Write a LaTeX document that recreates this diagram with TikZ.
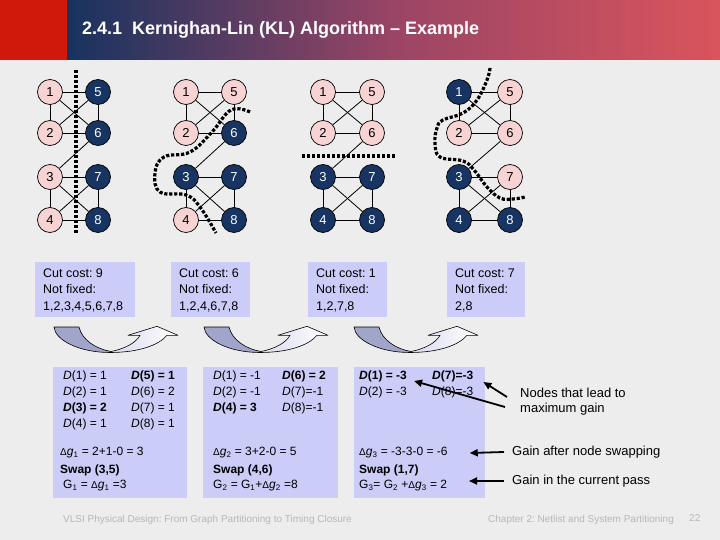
\documentclass[tikz,border=0pt]{standalone}
\usepackage{fontspec}
\setmainfont{Liberation Sans}
\usetikzlibrary{arrows.meta}
\definecolor{bg}{HTML}{EDEDED}
\definecolor{hdrred}{HTML}{D0190B}
\definecolor{hnavy}{HTML}{17335F}
\definecolor{hmid}{HTML}{9A4565}
\definecolor{hred}{HTML}{DA545C}
\definecolor{navy}{HTML}{173462}
\definecolor{pinkn}{HTML}{F8D3D3}
\definecolor{lav}{HTML}{CCCCF8}
\definecolor{tailc}{HTML}{A2A5CA}
\definecolor{shaftl}{HTML}{D8D9EE}
\definecolor{foot}{HTML}{B7B7B7}
\newcommand{\klgraph}[4]{%
  \foreach \i/\s in {#4}{%
    \pgfmathtruncatemacro{\rr}{mod(\i-1,4)}%
    \pgfmathsetmacro{\yy}{{92,133,177,220}[\rr]}%
    \ifnum\i<5 \def\xx{#2}\else\def\xx{#3}\fi
    \node[\s] (#1\i) at (\xx,\yy) {\i};
  }%
  \foreach \a/\b in {1/2,1/5,1/6,2/5,2/6,5/6,6/3,3/7,3/4,3/8,4/7,4/8,7/8}{\draw[edge] (#1\a) -- (#1\b);}%
}
\newcommand{\dg}[1]{{\fontsize{10}{10}\selectfont Δ}\textit{g}\textsubscript{#1}}
\newcommand{\Dd}[1]{\textit{D}(#1)}
\begin{document}
\frenchspacing
\begin{tikzpicture}[x=1pt,y=-1pt,
  pn/.style={circle,draw=black,line width=0.7pt,fill=pinkn,minimum size=25pt,inner sep=0pt,font=\fontsize{13}{13}\selectfont},
  nn/.style={pn,fill=navy,text=white},
  edge/.style={line width=0.8pt},
  cutline/.style={line width=3.2pt,dash pattern=on 3.2pt off 1.8pt},
  costbox/.style={fill=lav,anchor=north west,inner sep=0pt,minimum height=55pt},
  costtxt/.style={anchor=west,align=left,inner sep=0pt,font=\fontsize{12.5}{16.5}\selectfont},
  dbox/.style={fill=lav,anchor=north west,inner sep=0pt,minimum height=131pt},
  dtxt/.style={anchor=west,inner sep=0pt,font=\fontsize{12}{12}\selectfont},
  ann/.style={anchor=west,inner sep=0pt,font=\fontsize{13}{13}\selectfont},
  annarrow/.style={line width=1.8pt,-{Triangle[length=8pt,width=7pt]}},
  foottxt/.style={anchor=west,inner sep=0pt,text=foot,font=\fontsize{10}{10}\selectfont},
  curvarr/.pic={
    \fill[tailc] (0,0) -- (25,0) .. controls (28,13) and (42,22) .. (57,24.5) -- (56,25.5) .. controls (25,25.5) and (1,13) .. (0,0) -- cycle;
    \shade[left color=shaftl,right color=white] (57,24.5) .. controls (70,22) and (82,16) .. (86,8.3) -- (74,8.3) -- (103,-0.7) -- (124,8.3) -- (113,8.3) .. controls (105,18) and (85,25.5) .. (56,25.5) -- cycle;
    \draw[line width=0.6pt,line join=round] (0,0) -- (25,0) .. controls (28,13) and (42,22) .. (57,24.5) .. controls (70,22) and (82,16) .. (86,8.3) -- (74,8.3) -- (103,-0.7) -- (124,8.3) -- (113,8.3) .. controls (105,18) and (85,25.5) .. (56,25.5) .. controls (25,25.5) and (1,13) .. (0,0) -- cycle;
  }]
\useasboundingbox (0,0) rectangle (720,540);
\fill[bg] (0,0) rectangle (720,540);
% header
\fill[hdrred] (0,0) rectangle (67,60);
\shade[left color=hnavy,right color=hred,middle color=hmid] (67,0) rectangle (720,60);
\node[anchor=west,inner sep=0pt,text=white,font=\bfseries\fontsize{18}{18}\selectfont] (title) at (82,30) {2.4.1\hspace{0.55em}Kernighan-Lin (KL) Algorithm – Example};
% graphs
\klgraph{ga}{50}{98}{1/pn,2/pn,3/pn,4/pn,5/nn,6/nn,7/nn,8/nn}
\klgraph{gb}{186}{234}{1/pn,2/pn,3/nn,4/pn,5/pn,6/nn,7/nn,8/nn}
\klgraph{gc}{323}{372}{1/pn,2/pn,3/nn,4/nn,5/pn,6/pn,7/nn,8/nn}
\klgraph{gd}{459}{510}{1/nn,2/pn,3/nn,4/nn,5/pn,6/pn,7/pn,8/nn}
% cut lines
\draw[cutline] (76,70) -- (76,233);
\draw[cutline] plot[smooth,tension=0.7] coordinates {(250,112) (231,110) (212,132) (190,152) (164,157) (155,173) (160,192) (186,195) (200,207) (216,233)};
\draw[cutline] (302,156) -- (395,156);
\draw[cutline] plot[smooth,tension=0.7] coordinates {(490,68) (487,80) (477,100) (463,113) (443,120) (437,128) (435,143) (440,157) (463,161) (474,170) (487,187) (500,198) (513,199) (525,197)};
% cost boxes
\node[costbox,minimum width=100pt] (cost1) at (35,262) {};
\node[costbox,minimum width=79pt] (cost2) at (171,262) {};
\node[costbox,minimum width=79pt] (cost3) at (308,262) {};
\node[costbox,minimum width=78pt] (cost4) at (447,262) {};
\node[costtxt] (ct1) at (43,290) {Cut cost: 9\\Not fixed:\\1,2,3,4,5,6,7,8};
\node[costtxt] (ct2) at (179,290) {Cut cost: 6\\Not fixed:\\1,2,4,6,7,8};
\node[costtxt] (ct3) at (316,290) {Cut cost: 1\\Not fixed:\\1,2,7,8};
\node[costtxt] (ct4) at (455,290) {Cut cost: 7\\Not fixed:\\2,8};
% curved arrows
\pic at (54,327) {curvarr};
\pic at (204,327) {curvarr};
\pic at (354,327) {curvarr};
% bottom boxes
\node[dbox,minimum width=134pt] (boxA) at (53,367) {};
\node[dbox,minimum width=135pt] (boxB) at (203,367) {};
\node[dbox,minimum width=131pt] (boxC) at (354,367) {};
% box A
\node[dtxt] (aD1) at (63,376) {\Dd{1} = 1};
\node[dtxt] (aD5) at (131,376) {\textbf{\Dd{5} = 1}};
\node[dtxt] (aD2) at (63,392) {\Dd{2} = 1};
\node[dtxt] (aD6) at (131,392) {\Dd{6} = 2};
\node[dtxt] (aD3) at (63,408) {\textbf{\Dd{3} = 2}};
\node[dtxt] (aD7) at (131,408) {\Dd{7} = 1};
\node[dtxt] (aD4) at (63,424) {\Dd{4} = 1};
\node[dtxt] (aD8) at (131,424) {\Dd{8} = 1};
\node[dtxt] (aG) at (60,453) {\dg{1} = 2+1-0 = 3};
\node[dtxt] (aS) at (60,470) {\textbf{Swap (3,5)}};
\node[dtxt] (aT) at (63,486) {G\textsubscript{1} = \dg{1} =3};
% box B
\node[dtxt] (bD1) at (213,376) {\Dd{1} = -1};
\node[dtxt] (bD6) at (282,376) {\textbf{\Dd{6} = 2}};
\node[dtxt] (bD2) at (213,392) {\Dd{2} = -1};
\node[dtxt] (bD7) at (282,392) {\Dd{7}=-1};
\node[dtxt] (bD4) at (213,408) {\textbf{\Dd{4} = 3}};
\node[dtxt] (bD8) at (282,408) {\Dd{8}=-1};
\node[dtxt] (bG) at (213,453) {\dg{2} = 3+2-0 = 5};
\node[dtxt] (bS) at (213,470) {\textbf{Swap (4,6)}};
\node[dtxt] (bT) at (213,486) {G\textsubscript{2} = G\textsubscript{1}+\dg{2} =8};
% box C
\node[dtxt] (cD1) at (359,376) {\textbf{\Dd{1} = -3}};
\node[dtxt] (cD7) at (432,376) {\textbf{\Dd{7}=-3}};
\node[dtxt] (cD2) at (359,392) {\Dd{2} = -3};
\node[dtxt] (cD8) at (432,392) {\Dd{8}=-3};
\node[dtxt] (cG) at (359,453) {\dg{3} = -3-3-0 = -6};
\node[dtxt] (cS) at (359,470) {\textbf{Swap (1,7)}};
\node[dtxt] (cT) at (359,486) {G\textsubscript{3}= G\textsubscript{2} +\dg{3} = 2};
% annotations
\node[ann] (nA1) at (520,393) {Nodes that lead to};
\node[ann] (nA2) at (520,409) {maximum gain};
\node[ann] (gA) at (512,452) {Gain after node swapping};
\node[ann] (pA) at (512,481) {Gain in the current pass};
\coordinate (s1) at (507,397);
\coordinate (s2) at (505,407);
\draw[annarrow] (s1) -- ([shift={(10pt,-6pt)}]cD7.east);
\draw[annarrow] (s2) -- ([shift={(7pt,-5pt)}]cD1.east);
\draw[annarrow] ([xshift=-8pt]gA.west) -- ([xshift=22pt]cG.east);
\draw[annarrow] ([xshift=-8pt]pA.west) -- ([xshift=-43pt]pA.west);
% footer
\node[foottxt] (f1) at (63,520) {VLSI Physical Design: From Graph Partitioning to Timing Closure};
\node[foottxt] (f2) at (488,520) {Chapter 2: Netlist and System Partitioning};
\node[foottxt] (f3) at (689,518) {22};
\end{tikzpicture}
\end{document}
